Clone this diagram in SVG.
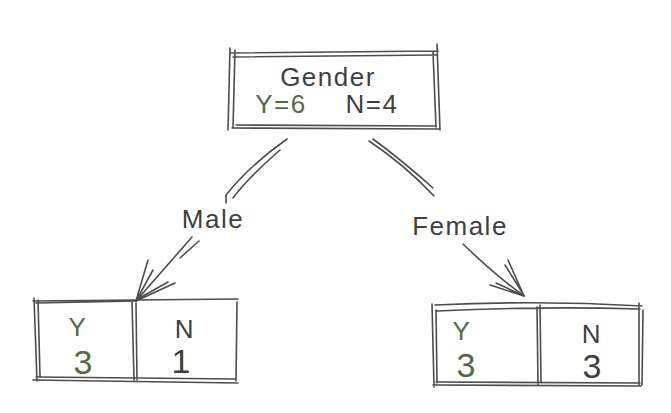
<svg xmlns="http://www.w3.org/2000/svg" width="671" height="413" viewBox="0 0 671 413">
<style>
.s{fill:none;stroke:#4d4d4d;stroke-width:1.6;stroke-linecap:round}
.t{font-family:"Liberation Sans",Arial,sans-serif;font-size:26px;letter-spacing:1.5px;fill:#3f3f3f;text-anchor:middle}
.d{font-size:34px;letter-spacing:0}
.g{fill:#4f6e3d}
</style>
<rect width="671" height="413" fill="#ffffff"/>
<g id="connectors">
<path class="s" d="M287 139 Q250 165 226 195 L226 203"/>
<path class="s" d="M280 150 Q248 178 233 198"/>
<path class="s" d="M192 237 L136 301"/>
<path class="s" d="M199 241 L180 258"/>
<path class="s" d="M136 301 L148 260 M136 301 L175 283 M136 301 L153 270 M136 300 L168 282"/>
<path class="s" d="M369 141 Q405 165 434 196"/>
<path class="s" d="M373 139 Q404 162 433 188"/>
<path class="s" d="M463 244 Q495 275 524 296"/>
<path class="s" d="M524 296 L508 260 M524 296 L490 285 M523 294 L505 265 M522 295 L496 283"/>
</g>
<g id="gender">
<path class="s" d="M230 53 L438 51 M233 57 L436 55 M230 48 L228 130 M235 50 L233 128 M437 44 L440 130 M433 52 L436 127 M232 128 L439 129 M236 125 L436 126"/>
<text class="t" x="328" y="86">Gender</text>
<text class="t g" x="281" y="113">Y=6</text>
<text class="t" x="372" y="113">N=4</text>
</g>
<g id="male">
<path class="s" d="M33 301 L238 299 M36 303 L136 301 M34 298 L37 381 M38 300 L40 376 M132 301 L134 380 M136 303 L137 380 M237 302 L236 381 M33 380 L238 383 M36 377 L236 379"/>
<text class="t g" x="78" y="336">Y</text>
<text class="t g d" x="83" y="374">3</text>
<text class="t" x="185" y="338">N</text>
<text class="t d" x="181" y="373">1</text>
</g>
<g id="female">
<path class="s" d="M435 305 Q540 300 642 306 M437 311 Q540 306 640 309 M432 304 L434 387 M436 310 L437 383 M537 307 L538 384 M540 305 L541 383 M639 303 L639 385 M643 310 L642 385 M433 385 L641 386 M436 382 L640 383"/>
<text class="t g" x="462" y="340">Y</text>
<text class="t g d" x="466" y="377">3</text>
<text class="t" x="592" y="343">N</text>
<text class="t d" x="592" y="378">3</text>
</g>
<g id="labels">
<text class="t" x="213" y="228">Male</text>
<text class="t" x="460" y="235">Female</text>
</g>
</svg>
